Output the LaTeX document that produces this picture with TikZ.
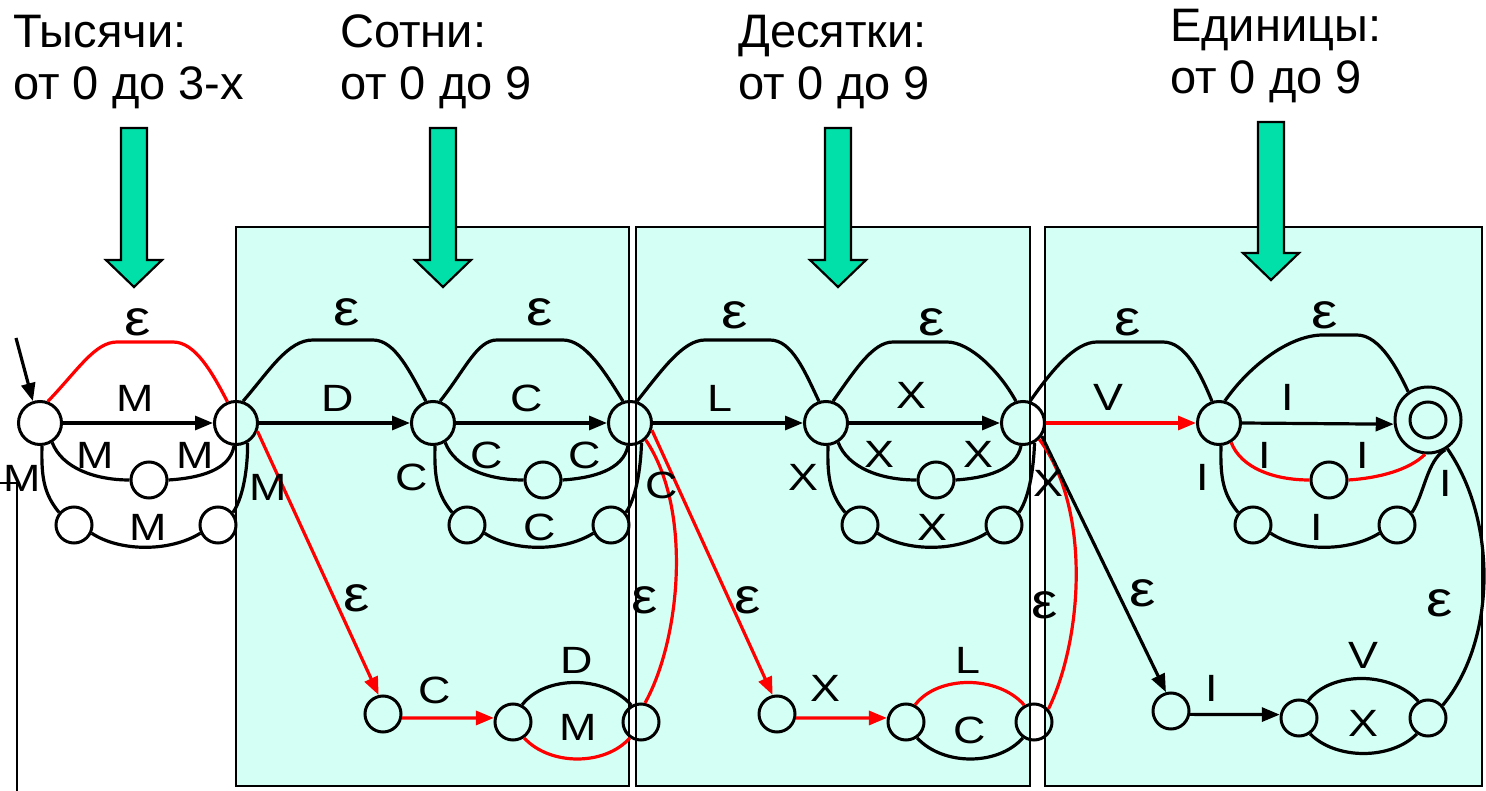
\documentclass[tikz,border=0pt]{standalone}
\usepackage{fontspec}
\setmainfont{Liberation Sans}
\newfontfamily\labfont[FakeStretch=1.18]{Liberation Sans}
\usetikzlibrary{arrows.meta}
\definecolor{boxfill}{HTML}{D4FFF4}
\definecolor{grn}{HTML}{00E0A8}
\definecolor{rd}{HTML}{FF0000}
\newcommand\grarrow[4]{\draw[garrow] (#1-13,#2) -- (#1+13,#2) -- (#1+13,#3) -- (#1+28,#3) -- (#1,#4) -- (#1-28,#3) -- (#1-13,#3) -- cycle;}
\newcommand\mkloops[7]{%
\begin{scope}[xshift=#6]
\draw[#7] (#1.-58) .. controls (62,468) and (95,480) .. (#2.west);
\draw[#7] (#2.east) .. controls (200,478) and (230,470) .. (#5.-95);
\draw[ed] (#1.-85) .. controls (41,480) and (45,495) .. (#3.140);
\draw[ed] (#3.-25) .. controls (120,552) and (170,552) .. (#4.-155);
\draw[ed] (#4.40) .. controls (245,495) and (248,460) .. (#5.-60);
\end{scope}}
\begin{document}
\begin{tikzpicture}[x=1pt,y=-1pt,
  st/.style={circle,draw,line width=3pt,minimum size=43pt,inner sep=0pt},
  sm/.style={circle,draw,line width=3pt,minimum size=36pt,inner sep=0pt},
  ed/.style={line width=3.2pt},
  redge/.style={ed,draw=rd},
  arr/.style={-{Triangle[length=18pt,width=14pt]}},
  lbl/.style={font=\labfont\fontsize{38}{40}\selectfont,inner sep=0pt},
  eps/.style={font=\labfont\fontsize{50}{52}\selectfont,inner sep=0pt},
  ttl/.style={font=\fontsize{47}{52}\selectfont,anchor=base west,inner sep=0pt},
  boxst/.style={fill=boxfill,draw=black,line width=2.8pt},
  garrow/.style={fill=grn,draw=black,line width=2.2pt}]
\useasboundingbox (0,0) rectangle (1486,791);
% boxes
\draw[boxst] (236,227) rectangle (629,786);
\draw[boxst] (636,227) rectangle (1030,786);
\draw[boxst] (1045,227) rectangle (1482,786);
% titles
\node[ttl] (t1a) at (13,48) {Тысячи:};
\node[ttl] (t1b) at (13,100) {от 0 до 3-х};
\node[ttl] (t2a) at (340,48) {Сотни:};
\node[ttl] (t2b) at (340,100) {от 0 до 9};
\node[ttl] (t3a) at (738,48) {Десятки:};
\node[ttl] (t3b) at (738,100) {от 0 до 9};
\node[ttl] (t4a) at (1170,42) {Единицы:};
\node[ttl] (t4b) at (1170,94) {от 0 до 9};
% green arrows
\grarrow{134}{128}{260}{287}
\grarrow{443}{128}{260}{287}
\grarrow{838}{128}{260}{287}
\grarrow{1271}{122}{253}{280}
% states
\node[st] (q0) at (40,423) {};
\node[st] (q1) at (236,423) {};
\node[st] (q2) at (433,423) {};
\node[st] (q3) at (630,423) {};
\node[st] (q4) at (826,423) {};
\node[st] (q5) at (1023,423) {};
\node[st] (q6) at (1219,423) {};
\node[circle,draw,line width=3pt,minimum size=66pt,inner sep=0pt] (q7) at (1428,420) {};
\node[sm] (q7i) at (1428,420) {};
\node[sm] (m1) at (149,480) {};
\node[sm] (m2) at (543,480) {};
\node[sm] (m3) at (936,480) {};
\node[sm] (m4) at (1329,480) {};
\node[sm] (l1a) at (74,525) {};
\node[sm] (l1b) at (218,525) {};
\node[sm] (l2a) at (467,525) {};
\node[sm] (l2b) at (611,525) {};
\node[sm] (l3a) at (860,525) {};
\node[sm] (l3b) at (1004,525) {};
\node[sm] (l4a) at (1253,525) {};
\node[sm] (l4b) at (1397,525) {};
\node[sm] (b1) at (383,714) {};
\node[sm] (b2) at (513,722) {};
\node[sm] (b3) at (641,722) {};
\node[sm] (b4) at (777,714) {};
\node[sm] (b5) at (906,722) {};
\node[sm] (b6) at (1034,722) {};
\node[sm] (b7) at (1171,711) {};
\node[sm] (b8) at (1299,718) {};
\node[sm] (b9) at (1428,718) {};
% left artefact lines
\coordinate (s0) at (16,338);
\coordinate (k0) at (0,483);
\coordinate (k1) at (17,483);
\coordinate (k2) at (17,791);
\draw[line width=2.6pt] (k0) -- (k1) -- (k2);
% start arrow
\draw[ed,arr] (s0) -- (q0.108);
% main chain
\draw[ed,arr] (q0) -- (q1);
\draw[ed,arr] (q1) -- (q2);
\draw[ed,arr] (q2) -- (q3);
\draw[ed,arr] (q3) -- (q4);
\draw[ed,arr] (q4) -- (q5);
\draw[redge,arr,fill=rd] (q5) -- (q6);
\draw[ed,arr] (q6.east) -- (q7.187);
% top epsilon arcs
\draw[redge] (q0.70) .. controls (78,370) and (95,342) .. (117,342) -- (173,342) .. controls (195,342) and (212,372) .. (q1.112);
\draw[ed] (q1.72) .. controls (270,370) and (288,340) .. (313,340) -- (373,340) .. controls (395,340) and (410,372) .. (q2.108);
\draw[ed] (q2.72) .. controls (465,370) and (477,340) .. (497,340) -- (563,340) .. controls (585,340) and (605,372) .. (q3.108);
\draw[ed] (q3.72) .. controls (662,370) and (683,340) .. (705,340) -- (770,340) .. controls (792,340) and (805,372) .. (q4.108);
\draw[ed] (q4.72) .. controls (855,370) and (873,342) .. (893,342) -- (947,342) .. controls (970,342) and (1000,372) .. (q5.108);
\draw[ed] (q5.72) .. controls (1052,370) and (1075,342) .. (1097,342) -- (1163,342) .. controls (1185,342) and (1200,372) .. (q6.108);
\draw[ed] (q6.75) .. controls (1250,365) and (1290,335) .. (1323,335) -- (1357,335) .. controls (1380,335) and (1398,370) .. (q7.125);
% loops
\mkloops{q0}{m1}{l1a}{l1b}{q1}{0pt}{ed}
\mkloops{q2}{m2}{l2a}{l2b}{q3}{393pt}{ed}
\mkloops{q4}{m3}{l3a}{l3b}{q5}{786pt}{ed}
\mkloops{q6}{m4}{l4a}{l4b}{q7}{1179pt}{redge}
% lower branches
\draw[redge,arr,fill=rd] (q1.-21) -- (b1.103);
\draw[redge,arr,fill=rd] (b1.-12) -- (b2.168);
\draw[ed] (b2.62) .. controls (545,675) and (605,675) .. (b3.120);
\draw[redge] (b2.-55) .. controls (550,766) and (605,766) .. (b3.-125);
\draw[redge] (b3.78) .. controls (680,640) and (693,510) .. (q3.-47);
\draw[redge,arr,fill=rd] (q3.-18) -- (b4.103);
\draw[redge,arr,fill=rd] (b4.-12) -- (b5.168);
\draw[redge] (b5.62) .. controls (938,675) and (998,675) .. (b6.120);
\draw[ed] (b5.-55) .. controls (943,766) and (998,766) .. (b6.-125);
\draw[redge] (b6.42) .. controls (1082,640) and (1092,510) .. (q5.-45);
\draw[ed,arr] (q5.-35) -- (b7.105);
\draw[ed,arr] (b7.-10) -- (b8.170);
\draw[ed] (b8.62) .. controls (1331,671) and (1391,671) .. (b9.120);
\draw[ed] (b8.-55) .. controls (1336,760) and (1391,760) .. (b9.-125);
\draw[ed] (q7.-56) .. controls (1497,520) and (1497,640) .. (b9.41);
% labels block 1
\node[eps] (e1) at (138,322) {ε};
\node[lbl] (a1) at (135,398) {M};
\node[lbl] (a2) at (95,455) {M};
\node[lbl] (a3) at (195,455) {M};
\node[lbl] (a4) at (148,527) {M};
\node[lbl] (a5) at (22,478) {M};
\node[lbl] (a6) at (268,487) {M};
% labels block 2
\node[eps] (e2) at (347,312) {ε};
\node[eps] (e3) at (540,312) {ε};
\node[eps] (e4) at (357,598) {ε};
\node[eps] (e5) at (645,600) {ε};
\node[lbl] (c1) at (338,398) {D};
\node[lbl] (c2) at (527,398) {C};
\node[lbl] (c3) at (487,455) {C};
\node[lbl] (c4) at (585,455) {C};
\node[lbl] (c5) at (540,527) {C};
\node[lbl] (c6) at (412,477) {C};
\node[lbl] (c7) at (662,485) {C};
\node[lbl] (c8) at (435,690) {C};
\node[lbl] (c9) at (577,660) {D};
\node[lbl] (c10) at (578,727) {M};
% labels block 3
\node[eps] (e6) at (735,315) {ε};
\node[eps] (e7) at (932,322) {ε};
\node[eps] (e8) at (748,600) {ε};
\node[eps] (e9) at (1045,605) {ε};
\node[lbl] (x1) at (720,398) {L};
\node[lbl] (x2) at (911,395) {X};
\node[lbl] (x3) at (879,454) {X};
\node[lbl] (x4) at (978,454) {X};
\node[lbl] (x5) at (932,527) {X};
\node[lbl] (x6) at (803,477) {X};
\node[lbl] (x7) at (1048,483) {X};
\node[lbl] (x8) at (825,688) {X};
\node[lbl] (x9) at (968,660) {L};
\node[lbl] (x10) at (970,730) {C};
% labels block 4
\node[eps] (e10) at (1128,322) {ε};
\node[eps] (e11) at (1325,315) {ε};
\node[eps] (e12) at (1143,593) {ε};
\node[eps] (e13) at (1440,603) {ε};
\node[lbl] (i1) at (1108,397) {V};
\node[lbl] (i2) at (1288,397) {I};
\node[lbl] (i3) at (1265,455) {I};
\node[lbl] (i4) at (1363,455) {I};
\node[lbl] (i5) at (1317,527) {I};
\node[lbl] (i6) at (1203,477) {I};
\node[lbl] (i7) at (1446,483) {I};
\node[lbl] (i8) at (1212,688) {I};
\node[lbl] (i9) at (1363,655) {V};
\node[lbl] (i10) at (1363,723) {X};
\end{tikzpicture}
\end{document}
